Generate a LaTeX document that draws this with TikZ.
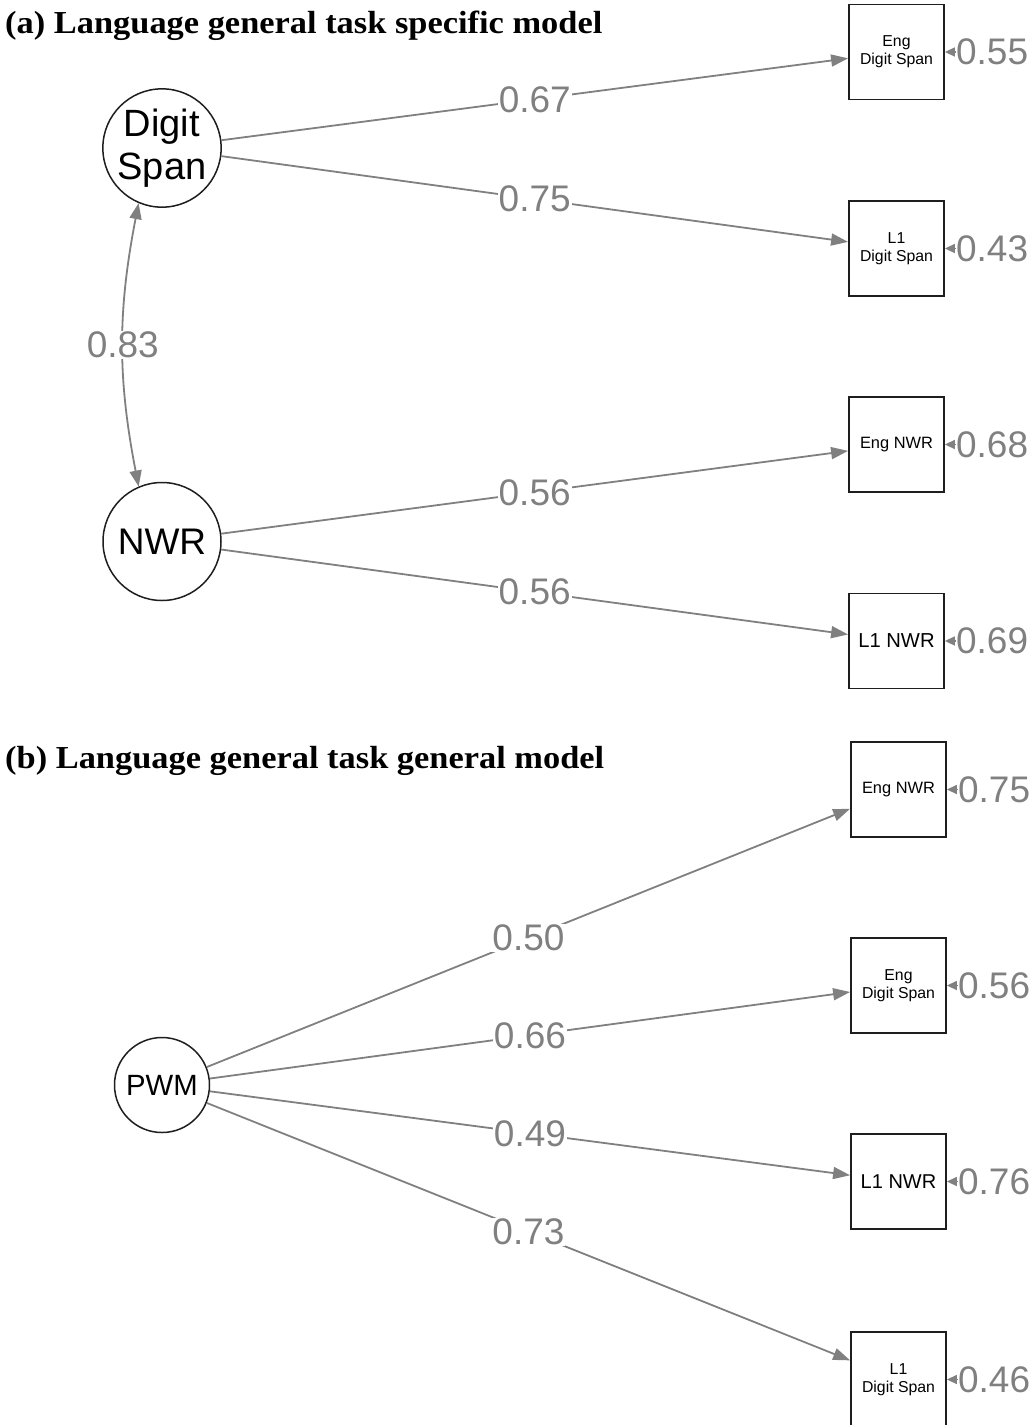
\documentclass[tikz,border=0pt]{standalone}
\usepackage{fontspec}
\setmainfont{Liberation Serif}
\newfontfamily\arial{Liberation Sans}
\usetikzlibrary{arrows.meta}
\definecolor{eg}{RGB}{128,128,128}
\definecolor{bd}{RGB}{30,30,30}
\newcommand\fsz[2]{\fontsize{#1}{#2}\selectfont}
\newcommand\ttltext[1]{\scalebox{1.075}[1]{#1}}
\begin{document}
\begin{tikzpicture}[x=1pt,y=-1pt,
  lat/.style={circle, draw=bd, line width=1.5pt, inner sep=0pt, align=center, fill=white},
  man/.style={rectangle, draw=bd, line width=1.8pt, minimum size=95pt, inner sep=0pt, align=center, fill=white},
  pth/.style={draw=eg, line width=1.8pt, -{Triangle[length=17pt,width=12pt]}},
  dbl/.style={draw=eg, line width=1.8pt, {Triangle[length=16pt,width=12pt]}-{Triangle[length=16pt,width=12pt]}},
  resarr/.style={draw=eg, line width=1.5pt, -{Triangle[length=10pt,width=9pt]}},
  lbl/.style={fill=white, inner sep=1pt, text=eg, font=\arial\fsz{37}{37}},
  rlbl/.style={inner sep=1pt, text=eg, font=\arial\fsz{37}{37}, anchor=west},
  ttl/.style={anchor=base west, inner sep=0pt, font=\fsz{32}{32}\bfseries}
]
\useasboundingbox (0,0) rectangle (1036,1425);
\clip (0,0) rectangle (1036,1425);

% ---------- panel (a)
\node[ttl] (ta) at (5,33) {\ttltext{(a) Language general task specific model}};

\node[lat, minimum size=118pt, font=\arial\fsz{38}{43}] (ds) at (162,148) {Digit\\Span};
\node[lat, minimum size=118pt, font=\arial\fsz{37}{37}] (nwr) at (162,541.5) {NWR};

\node[man, font=\arial\fsz{15.8}{18}] (a1) at (896.5,52) {Eng\\Digit Span};
\node[man, font=\arial\fsz{15.8}{18}] (a2) at (896.5,248.5) {L1\\Digit Span};
\node[man, font=\arial\fsz{16.4}{18}] (a3) at (896.5,444.5) {Eng NWR};
\node[man, font=\arial\fsz{20.2}{22}] (a4) at (896.5,641) {L1 NWR};

\draw[pth] (ds) -- node[lbl] {0.67} (a1);
\draw[pth] (ds) -- node[lbl] {0.75} (a2);
\draw[pth] (nwr) -- node[lbl] {0.56} (a3);
\draw[pth] (nwr) -- node[lbl] {0.56} (a4);
\draw[dbl] (ds.247) to[bend right=11] node[lbl] {0.83} (nwr.113);

\node[rlbl] (ra1) at ([xshift=10pt]a1.east) {0.55};
\node[rlbl] (ra2) at ([xshift=10pt]a2.east) {0.43};
\node[rlbl] (ra3) at ([xshift=10pt]a3.east) {0.68};
\node[rlbl] (ra4) at ([xshift=10pt]a4.east) {0.69};
\draw[resarr] (ra1) -- (a1);
\draw[resarr] (ra2) -- (a2);
\draw[resarr] (ra3) -- (a3);
\draw[resarr] (ra4) -- (a4);

% ---------- panel (b)
\node[ttl] (tb) at (5,768) {\ttltext{(b) Language general task general model}};

\node[lat, minimum size=95pt, font=\arial\fsz{29.3}{30}] (pwm) at (162,1085) {PWM};

\node[man, font=\arial\fsz{16.4}{18}] (b1) at (898.5,789.5) {Eng NWR};
\node[man, font=\arial\fsz{15.8}{18}] (b2) at (898.5,985.5) {Eng\\Digit Span};
\node[man, font=\arial\fsz{20}{22}] (b3) at (898.5,1181.5) {L1 NWR};
\node[man, font=\arial\fsz{15.8}{18}] (b4) at (898.5,1379.5) {L1\\Digit Span};

\draw[pth] (pwm) -- node[lbl] {0.50} (b1);
\draw[pth] (pwm) -- node[lbl] {0.66} (b2);
\draw[pth] (pwm) -- node[lbl] {0.49} (b3);
\draw[pth] (pwm) -- node[lbl] {0.73} (b4);

\node[rlbl] (rb1) at ([xshift=10pt]b1.east) {0.75};
\node[rlbl] (rb2) at ([xshift=10pt]b2.east) {0.56};
\node[rlbl] (rb3) at ([xshift=10pt]b3.east) {0.76};
\node[rlbl] (rb4) at ([xshift=10pt]b4.east) {0.46};
\draw[resarr] (rb1) -- (b1);
\draw[resarr] (rb2) -- (b2);
\draw[resarr] (rb3) -- (b3);
\draw[resarr] (rb4) -- (b4);
\end{tikzpicture}
\end{document}
